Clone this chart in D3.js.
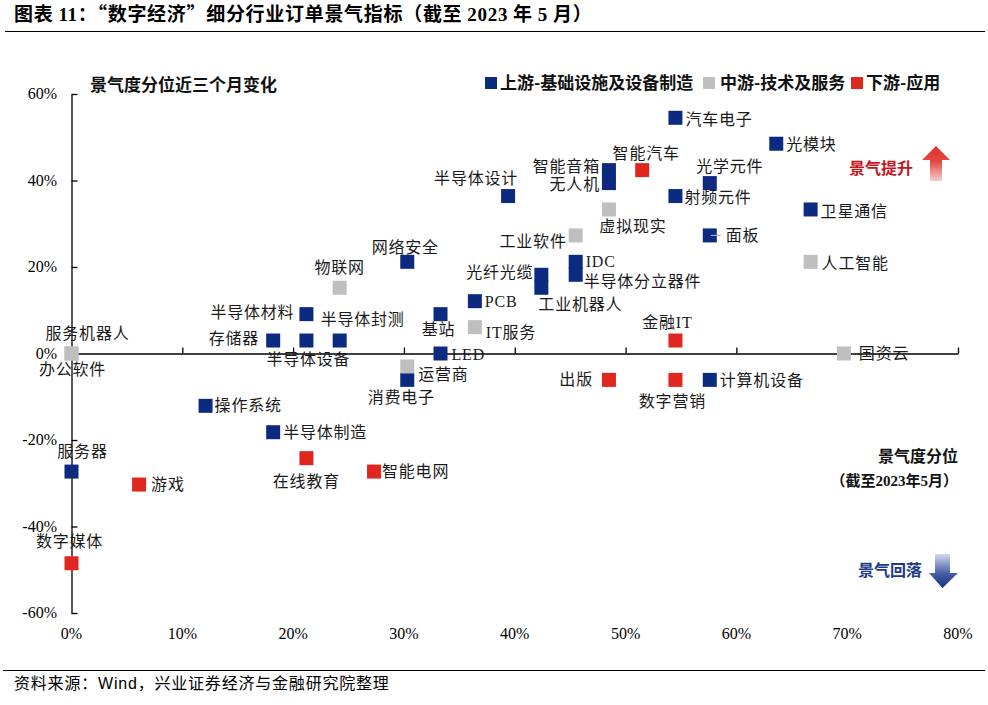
<!DOCTYPE html>
<html><head><meta charset="utf-8">
<script src="https://cdn.jsdelivr.net/npm/d3@7"></script>
<style>
html,body{margin:0;padding:0;background:#fff;}
svg{display:block;}
</style></head>
<body>
<svg id="chart" width="988" height="705"></svg>
<script>
// ---------------- DATA ----------------
const upstreamNames = ["汽车电子","光模块","光学元件","射频元件","卫星通信","面板","智能音箱","无人机","半导体设计","网络安全","IDC","半导体分立器件","光纤光缆","工业机器人","PCB","半导体材料","基站","存储器","半导体设备","半导体封测","LED","消费电子","计算机设备","操作系统","半导体制造","服务器"];
const upstreamX = [54.5,63.6,57.6,54.5,66.7,57.6,48.5,48.5,39.4,30.3,45.5,45.5,42.4,42.4,36.4,21.2,33.3,18.2,21.2,24.2,33.3,30.3,57.6,12.1,18.2,0];
const upstreamY = [54.5,48.5,39.4,36.4,33.3,27.3,42.4,39.4,36.4,21.2,21.2,18.2,18.2,15.2,12.1,9.1,9.1,3.0,3.0,3.0,0,-6.1,-6.1,-12.1,-18.2,-27.3];

const midstreamNames = ["虚拟现实","工业软件","人工智能","物联网","IT服务","服务机器人","办公软件","运营商","国资云"];
const midstreamX = [48.5,45.5,66.7,24.2,36.4,0,0,30.3,69.7];
const midstreamY = [33.3,27.3,21.2,15.2,6.1,0,0,-3.0,0];

const downstreamNames = ["智能汽车","金融IT","出版","数字营销","在线教育","智能电网","游戏","数字媒体"];
const downstreamX = [51.5,54.5,48.5,54.5,21.2,27.3,6.1,0];
const downstreamY = [42.4,3.0,-6.1,-6.1,-24.2,-27.3,-30.3,-48.5];

const seriesNames = ["上游-基础设施及设备制造","中游-技术及服务","下游-应用"];
const xTicks = [0,10,20,30,40,50,60,70,80];
const yTicks = [-60,-40,-20,0,20,40,60];

// ---------------- LAYOUT (label placement relative to marker) ----------------
const labelLayout = {
  "汽车电子":[10,2,"start"], "光模块":[10,1,"start"], "光学元件":[20,-17,"middle"],
  "射频元件":[9,1,"start"], "卫星通信":[10,2,"start"], "面板":[16,0,"start"],
  "智能音箱":[-9,-3.5,"end"], "无人机":[-9,1,"end"], "半导体设计":[-32,-18,"middle"],
  "网络安全":[-2,-14,"middle"], "IDC":[10,0,"start"], "半导体分立器件":[8,7,"start"],
  "光纤光缆":[-8,-2,"end"], "工业机器人":[-3,17,"start"], "PCB":[10,0,"start"],
  "半导体材料":[-12,-2,"end"], "基站":[-2,15,"middle"], "存储器":[-14,-2,"end"],
  "半导体设备":[2,19,"middle"], "半导体封测":[23,-21,"middle"], "LED":[11,1,"start"],
  "消费电子":[-6,18,"middle"], "计算机设备":[10,1,"start"], "操作系统":[9,0,"start"],
  "半导体制造":[10,0,"start"], "服务器":[11,-20,"middle"],
  "虚拟现实":[24,17,"middle"], "工业软件":[-9,6,"end"], "人工智能":[11,2,"start"],
  "物联网":[0,-20,"middle"], "IT服务":[11,5,"start"], "服务机器人":[16,-20,"middle"],
  "办公软件":[1,15.5,"middle"], "运营商":[11,8,"start"], "国资云":[15,0,"start"],
  "智能汽车":[4,-17,"middle"], "金融IT":[-8,-18,"middle"], "出版":[-16,0,"end"],
  "数字营销":[-3,22,"middle"], "在线教育":[0,23,"middle"], "智能电网":[8,0,"start"],
  "游戏":[12,0,"start"], "数字媒体":[-2,-22,"middle"]
};

const colors = ["#0b2a80","#bfbfbf","#e0271f"];
const serifFont = "'Liberation Serif','Noto Sans CJK SC',serif";
const cjkFont = "'Noto Sans CJK SC','Liberation Serif',sans-serif";

// ---------------- DRAW ----------------
const svg = d3.select("#chart");
const x = d3.scaleLinear().domain([0,80]).range([71.5,958]);
const y = d3.scaleLinear().domain([-60,60]).range([613,94]);

// Title
const title = svg.append("text").attr("x",14).attr("y",21)
  .attr("font-family",cjkFont).attr("font-size",19).attr("font-weight","bold").attr("letter-spacing",0.7).attr("fill","#000");
[["图表 ",cjkFont],["11",serifFont],["：“数字经济”细分行业订单景气指标（截至 ",cjkFont],["2023",serifFont],[" 年 ",cjkFont],["5",serifFont],[" 月）",cjkFont]]
  .forEach(([t,f]) => title.append("tspan").attr("font-family",f).text(t));
svg.append("line").attr("x1",5).attr("x2",985).attr("y1",31.5).attr("y2",31.5).attr("stroke","#000").attr("stroke-width",1.2);

// Footer
svg.append("line").attr("x1",3).attr("x2",985).attr("y1",670.5).attr("y2",670.5).attr("stroke","#000").attr("stroke-width",1.2);
svg.append("text").attr("x",14).attr("y",689)
  .attr("font-family","'Liberation Sans','Noto Sans CJK SC',sans-serif").attr("font-size",16).attr("letter-spacing",0.8).attr("fill","#000")
  .text("资料来源：Wind，兴业证券经济与金融研究院整理");

// Axes
const xAxis = svg.append("g").attr("transform",`translate(0,${y(0)})`)
  .call(d3.axisTop(x).tickValues(xTicks).tickSize(6).tickSizeOuter(0).tickFormat(""));
const yAxis = svg.append("g").attr("transform",`translate(${x(0)},0)`)
  .call(d3.axisRight(y).tickValues(yTicks).tickSize(6).tickSizeOuter(0).tickFormat(""));
[xAxis,yAxis].forEach(g => { g.selectAll("path,line").attr("stroke","#000").attr("stroke-width",1.3); });

svg.append("g").selectAll("text").data(xTicks).join("text")
  .attr("x",d=>x(d)).attr("y",639).attr("text-anchor","middle")
  .attr("font-family",serifFont).attr("font-size",16).attr("fill","#000")
  .text(d=>d+"%");
svg.append("g").selectAll("text").data(yTicks).join("text")
  .attr("x",57).attr("y",d=>y(d)+5).attr("text-anchor","end")
  .attr("font-family",serifFont).attr("font-size",16).attr("fill","#000")
  .text(d=>d+"%");

// Axis titles
svg.append("text").attr("x",90).attr("y",91).attr("font-family",cjkFont).attr("font-size",17)
  .attr("font-weight","bold").attr("fill","#111").text("景气度分位近三个月变化");
svg.append("text").attr("x",958).attr("y",462).attr("text-anchor","end").attr("font-family",cjkFont).attr("font-size",16)
  .attr("font-weight","bold").attr("fill","#111").text("景气度分位");
const sub = svg.append("text").attr("x",958).attr("y",486).attr("text-anchor","end").attr("font-family",cjkFont).attr("font-size",15)
  .attr("font-weight","bold").attr("fill","#111");
[["（截至",cjkFont],["2023",serifFont],["年",cjkFont],["5",serifFont],["月）",cjkFont]]
  .forEach(([t,f]) => sub.append("tspan").attr("font-family",f).text(t));

// Legend
const legendX = [485,703,851];
const legendTextX = [500,720,866];
seriesNames.forEach((n,i) => {
  svg.append("rect").attr("x",legendX[i]).attr("y",77).attr("width",12).attr("height",12).attr("fill",colors[i]);
  svg.append("text").attr("x",legendTextX[i]).attr("y",89).attr("font-family",cjkFont).attr("font-size",17)
    .attr("font-weight","bold").attr("fill","#111").text(n);
});

// Arrows
const defs = svg.append("defs");
const gUp = defs.append("linearGradient").attr("id","gUp").attr("x1",0).attr("x2",0).attr("y1",0).attr("y2",1);
gUp.append("stop").attr("offset","0%").attr("stop-color","#e0302c");
gUp.append("stop").attr("offset","45%").attr("stop-color","#e24a45");
gUp.append("stop").attr("offset","100%").attr("stop-color","#f7cfcf");
const gDn = defs.append("linearGradient").attr("id","gDn").attr("x1",0).attr("x2",0).attr("y1",0).attr("y2",1);
gDn.append("stop").attr("offset","0%").attr("stop-color","#d4dbee");
gDn.append("stop").attr("offset","55%").attr("stop-color","#4a63a8");
gDn.append("stop").attr("offset","100%").attr("stop-color","#13307f");
svg.append("path").attr("d","M936,146 L950,160 L942,160 L942,181 L930,181 L930,160 L922,160 Z").attr("fill","url(#gUp)");
svg.append("path").attr("d","M935,554 L950,554 L950,573 L958,573 L942.5,588 L929,573 L935,573 Z").attr("fill","url(#gDn)");
svg.append("text").attr("x",913).attr("y",174).attr("text-anchor","end").attr("font-family",cjkFont).attr("font-size",16)
  .attr("font-weight","bold").attr("fill","#c4161c").text("景气提升");
svg.append("text").attr("x",922).attr("y",576).attr("text-anchor","end").attr("font-family",cjkFont).attr("font-size",16)
  .attr("font-weight","bold").attr("fill","#1f3a8a").text("景气回落");

// Points
const groups = [
  {names:upstreamNames, xs:upstreamX, ys:upstreamY, color:colors[0]},
  {names:midstreamNames, xs:midstreamX, ys:midstreamY, color:colors[1]},
  {names:downstreamNames, xs:downstreamX, ys:downstreamY, color:colors[2]}
];
const S = 14;
const markLayer = svg.append("g");
const labelLayer = svg.append("g");
groups.forEach(g => {
  const pts = g.names.map((n,i)=>({name:n, x:g.xs[i], y:g.ys[i]}));
  markLayer.selectAll(null).data(pts).join("rect")
    .attr("x",d=>x(d.x)-S/2).attr("y",d=>y(d.y)-S/2).attr("width",S).attr("height",S).attr("fill",g.color);
  labelLayer.selectAll(null).data(pts).join("text")
    .attr("x",d=>x(d.x)+labelLayout[d.name][0])
    .attr("y",d=>y(d.y)+labelLayout[d.name][1])
    .attr("text-anchor",d=>labelLayout[d.name][2])
    .attr("dominant-baseline","central")
    .attr("font-family",serifFont).attr("font-size",16).attr("letter-spacing",0.8).attr("fill","#1a1a1a")
    .text(d=>d.name);
});
// small leader dash next to 面板
const pi = upstreamNames.indexOf("面板");
svg.append("line").attr("x1",x(upstreamX[pi])+1).attr("x2",x(upstreamX[pi])+11)
  .attr("y1",y(upstreamY[pi])).attr("y2",y(upstreamY[pi])).attr("stroke","#aaa").attr("stroke-width",1.2);
</script>
</body></html>
